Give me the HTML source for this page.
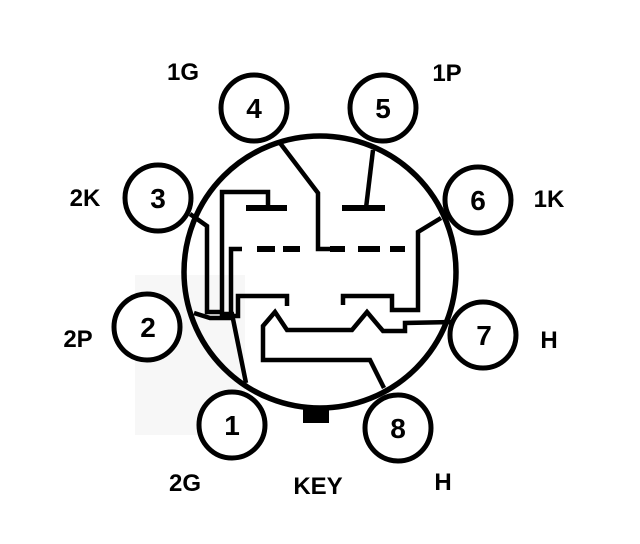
<!DOCTYPE html>
<html><head><style>
body{margin:0;background:#fff;width:640px;height:539px;overflow:hidden}
text{font-family:"Liberation Sans",sans-serif;font-weight:bold;fill:#000}
</style></head><body>
<svg width="640" height="539" viewBox="0 0 640 539" xmlns="http://www.w3.org/2000/svg">
<rect x="135" y="275" width="110" height="160" fill="#f7f7f7"/>
<g fill="none" stroke="#000" stroke-width="5.5" stroke-linejoin="miter">
<circle cx="320" cy="272" r="136"/>
<g fill="#fff" stroke-width="5">
<circle cx="254" cy="108" r="33"/>
<circle cx="383" cy="108" r="33"/>
<circle cx="478" cy="200" r="33"/>
<circle cx="158" cy="198" r="33"/>
<circle cx="147" cy="327" r="33"/>
<circle cx="483" cy="335" r="33"/>
<circle cx="232" cy="425" r="33"/>
<circle cx="398" cy="428" r="33"/>
</g>
<g stroke-width="4.5">
<polyline points="280,143 318,193 318,249 330,249"/>
<line x1="330" y1="249" x2="345" y2="249" stroke-width="6"/>
<line x1="358" y1="249" x2="380" y2="249" stroke-width="6"/>
<line x1="390" y1="249" x2="405" y2="249" stroke-width="6"/>
<line x1="257" y1="249" x2="275" y2="249" stroke-width="6"/>
<line x1="283" y1="249" x2="300" y2="249" stroke-width="6"/>
<polyline points="242,249 231,249 231,318 210,318 194,313"/>
<line x1="246" y1="208" x2="287" y2="208" stroke-width="6"/>
<polyline points="268,208 268,192 222,192 222,314 232,314 246,383"/>
<polyline points="190,214 207,226 207,312 222,312"/>
<polyline points="287,306 287,296 238,296 238,316 230,316"/>
<polyline points="373,150 366,208"/>
<line x1="342" y1="208" x2="385" y2="208" stroke-width="6"/>
<polyline points="441,218 418,232 418,310 392,310 392,296 343,296 343,305"/>
<polyline points="453,322 405,323 405,331 383,331 367,312 352,330 287,330 275,312 263,326 263,360 370,360 384,388"/>
</g>
<rect x="303" y="407" width="26" height="16" fill="#000" stroke="none"/>
</g>
<g font-size="28" text-anchor="middle">
<text x="254" y="118">4</text>
<text x="383" y="118">5</text>
<text x="478" y="210">6</text>
<text x="158" y="208">3</text>
<text x="148" y="337">2</text>
<text x="484" y="345">7</text>
<text x="232" y="435">1</text>
<text x="398" y="438">8</text>
</g>
<g font-size="24" text-anchor="middle">
<text x="183" y="80">1G</text>
<text x="447" y="81">1P</text>
<text x="85" y="206">2K</text>
<text x="549" y="207">1K</text>
<text x="78" y="347">2P</text>
<text x="549" y="348">H</text>
<text x="185" y="491">2G</text>
<text x="318" y="494">KEY</text>
<text x="443" y="490">H</text>
</g>
</svg>
</body></html>
